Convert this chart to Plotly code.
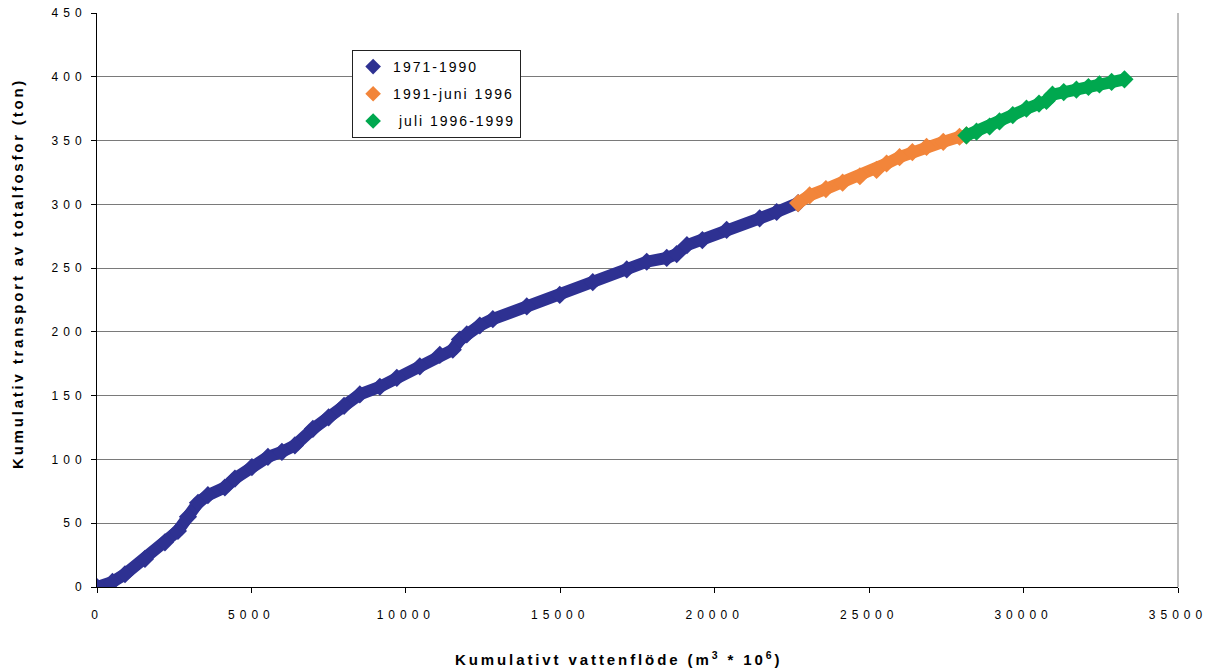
import plotly.graph_objects as go

# Series (cumulative water flow, cumulative total phosphorus)
x_1971_1990 = [0, 500, 906, 1553, 2200, 2620, 2945, 3270, 3590, 4140, 4466, 5016, 5534, 5987,
               6407, 6990, 7500, 8000, 8510, 9158, 9708, 10452, 11100, 11520, 11750, 11973,
               12394, 12816, 13915, 14983, 16051, 17152, 17799, 18447, 18770, 19100, 19600,
               20387, 21455, 22006, 22700]
y_1971_1990 = [0, 4, 10, 22, 35, 44, 55, 66, 72, 78, 85, 94, 102, 106,
               111, 124, 133, 142, 151, 157, 164, 173, 182, 186, 194, 198,
               205, 210, 220, 229, 239, 249, 255, 258, 261, 268, 272,
               280, 289, 294, 301]

x_1991_1996 = [22700, 23073, 23600, 24141, 24700, 25241, 25565, 25985, 26400, 26859, 27400, 27926, 28150]
y_1991_1996 = [301, 307, 312, 317, 322, 327, 332, 337, 341, 345, 349, 353, 354]

x_1996_1999 = [28150, 28476, 28900, 29220, 29650, 30094, 30500, 30741, 30935, 31300, 31711,
               32100, 32456, 32850, 33267]
y_1996_1999 = [354, 357, 361, 365, 370, 375, 379, 381, 386, 388, 390, 392, 394, 396, 398]

series_names = ["1971-1990", "1991-juni 1996", " juli 1996-1999"]
series_colors = ["#2E3192", "#F2853A", "#00A84F"]

x_ticks = list(range(0, 35001, 5000))
y_ticks = list(range(0, 451, 50))

FONT = "Liberation Sans, Arial, sans-serif"


def spaced(t, px):
    return f'<span style="letter-spacing:{px}px">{t}</span>'


fig = go.Figure()
data = [(x_1971_1990, y_1971_1990), (x_1991_1996, y_1991_1996), (x_1996_1999, y_1996_1999)]
for i, ((xs, ys), name, col) in enumerate(zip(data, series_names, series_colors)):
    fig.add_trace(go.Scatter(x=xs, y=ys, mode="lines", line=dict(color=col, width=12),
                             showlegend=False, legendgroup=f"g{i}", hoverinfo="skip"))
    fig.add_trace(go.Scatter(x=xs, y=ys, mode="markers", name=spaced(name, 2),
                             marker=dict(symbol="diamond", size=14, color=col, line=dict(width=0)),
                             legendgroup=f"g{i}"))

fig.update_layout(
    width=1219, height=671,
    margin=dict(l=97, r=41, t=13, b=84, autoexpand=False),
    paper_bgcolor="white", plot_bgcolor="white",
    font=dict(family=FONT, color="black", size=12),
    legend=dict(x=0.236, y=0.9355, xanchor="left", yanchor="top",
                bgcolor="white", bordercolor="#222222", borderwidth=1,
                font=dict(size=14, family=FONT), tracegroupgap=6,
                itemwidth=30, itemsizing="constant"),
    xaxis=dict(range=[0, 35000], tickvals=x_ticks, automargin=False,
               ticktext=[spaced(str(v), 5) for v in x_ticks],
               showgrid=False, zeroline=False, showline=True, linecolor="black", linewidth=1,
               ticks="outside", ticklen=5, tickcolor="black", ticklabelstandoff=12,
               tickfont=dict(size=12, family=FONT)),
    yaxis=dict(range=[0, 450], tickvals=y_ticks, automargin=False,
               ticktext=[spaced(str(v), 5) for v in y_ticks],
               showgrid=True, gridcolor="#7a7a7a", gridwidth=1, zeroline=False,
               showline=True, linecolor="black", linewidth=1,
               ticks="outside", ticklen=5, tickcolor="black", ticklabelstandoff=2,
               tickfont=dict(size=12, family=FONT)),
    shapes=[dict(type="line", xref="paper", yref="paper", x0=1, x1=1, y0=0, y1=1,
                 line=dict(color="#a8a8a8", width=1.5))],
    annotations=[
        dict(text=spaced("<b>Kumulativt vattenflöde (m<sup>3</sup> * 10<sup>6</sup>)</b>", 2.9),
             xref="paper", yref="paper", x=(618 - 97) / 1081, y=(587 - 658) / 574,
             xanchor="center", yanchor="middle", showarrow=False,
             font=dict(size=15, family=FONT)),
        dict(text=spaced("<b>Kumulativ transport av totalfosfor (ton)</b>", 2.8),
             xref="paper", yref="paper", x=(17 - 97) / 1081, y=(587 - 274) / 574,
             xanchor="center", yanchor="middle", textangle=-90, showarrow=False,
             font=dict(size=15, family=FONT)),
    ],
)

fig.write_html("out.html")
